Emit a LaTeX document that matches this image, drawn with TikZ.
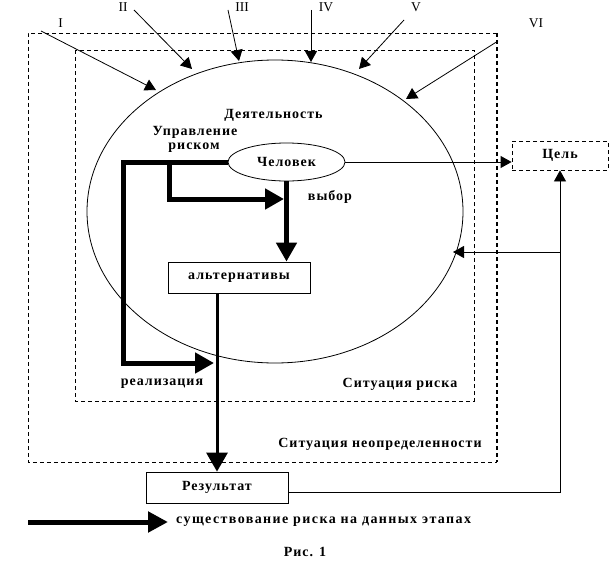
\documentclass[tikz,border=0pt]{standalone}
\usepackage{fontspec}
\setmainfont{Liberation Serif}
\newfontfamily\labfont[LetterSpace=7]{Liberation Serif}
\newfontfamily\legfont[LetterSpace=10]{Liberation Serif}
\usetikzlibrary{arrows.meta,shapes.geometric}
\begin{document}
\begin{tikzpicture}[x=1pt,y=-1pt,
  lab/.style={font=\labfont\bfseries\fontsize{14}{16}\selectfont, inner sep=0pt},
  leglab/.style={font=\legfont\bfseries\fontsize{14}{16}\selectfont, inner sep=0pt},
  num/.style={font=\fontsize{13.5}{15}\selectfont, inner sep=0pt},
  thinline/.style={line width=0.8pt},
  dsh/.style={dash pattern=on 4pt off 3pt},
  tarr/.style={thinline,-{Triangle[length=11pt,width=12pt]}},
  bigarr/.style={line width=5pt,-{Triangle[length=19pt,width=20pt]}},
  boxnode/.style={draw, thinline, rectangle, minimum width=142pt, minimum height=31pt, inner sep=0pt, lab}
]
\useasboundingbox (0,0) rectangle (610,586);
% outer and inner dashed frames
\draw[thinline,dsh] (497,33) -- (28,33) -- (28,462) -- (497,462);
\draw[line width=1.8pt,dsh] (497,33) -- (497,462);
\draw[thinline,dsh] (75,50) rectangle (474,401);
% big ellipse
\node[draw, thinline, ellipse, minimum width=376pt, minimum height=303pt, inner sep=0pt] (act) at (275,211.5) {};
% Roman numerals and arrows
\node[num] (n1) at (60.5,23) {I};
\node[num] (n2) at (123,7.5) {II};
\node[num] (n3) at (242,7.5) {III};
\node[num] (n4) at (326,7.5) {IV};
\node[num] (n5) at (416,7.5) {V};
\node[num] (n6) at (536,23) {VI};
\coordinate (s1) at (41,31);   \coordinate (t1) at (156,90);
\coordinate (s2) at (134,10);  \coordinate (t2) at (192,69);
\coordinate (s3) at (228,10);  \coordinate (t3) at (239,61);
\coordinate (s4) at (311,10);  \coordinate (t4) at (311,62);
\coordinate (s5) at (404,20);  \coordinate (t5) at (359,69);
\coordinate (s6) at (498,41);  \coordinate (t6) at (406,99);
\foreach \i in {1,...,6} \draw[tarr] (s\i) -- (t\i);
% texts
\node[lab] (dey) at (273.5,115) {Деятельность};
\node[lab] (upr) at (195,132) {Управление};
\node[lab] (ris) at (194,148) {риском};
\node[lab] (vyb) at (330,197) {выбор};
\node[lab] (rea) at (162,384) {реализация};
\node[lab] (sitr) at (400,384) {Ситуация риска};
\node[lab] (sitn) at (380,444) {Ситуация неопределенности};
% nodes
\node[draw, thinline, ellipse, minimum width=117pt, minimum height=38pt, inner sep=0pt, lab] (chel) at (286.5,162) {Человек};
\node[boxnode] (alt) at (239,277.5) {альтернативы};
\node[boxnode] (res) at (217,487.5) {Результат};
\node[draw, thinline, dsh, rectangle, minimum width=96pt, minimum height=29pt, inner sep=0pt, lab] (cel) at (560,155.5) {Цель};
% thick risk arrows
\coordinate (kL) at (123,162);
\coordinate (rt) at (214,363);
\draw[bigarr] (chel.west) -- (kL) |- (rt);
\coordinate (kB) at (169,162);
\coordinate (bt) at (284,199);
\draw[bigarr] (kB) |- (bt);
\draw[bigarr] (chel.south) -- (chel.south |- alt.north);
\draw[line width=3pt,-{Triangle[length=19pt,width=21pt]}] (res.north |- alt.south) -- (res.north);
% thin connectors
\draw[tarr] (chel.east) -- (chel.east -| cel.west);
\draw[tarr] ([yshift=-4.5pt]res.east) -| (cel.south);
\coordinate (fbt) at (453,252);
\draw[tarr] (cel.south |- fbt) -- (fbt);
% legend
\coordinate (lg1) at (28,522);
\coordinate (lg2) at (168,522);
\draw[line width=5pt,-{Triangle[length=20pt,width=20pt]}] (lg1) -- (lg2);
\node[leglab, anchor=west] (lgt) at (176,522) {существование риска на данных этапах};
\node[lab] (fig) at (305,552) {Рис. 1};
\end{tikzpicture}
\end{document}
